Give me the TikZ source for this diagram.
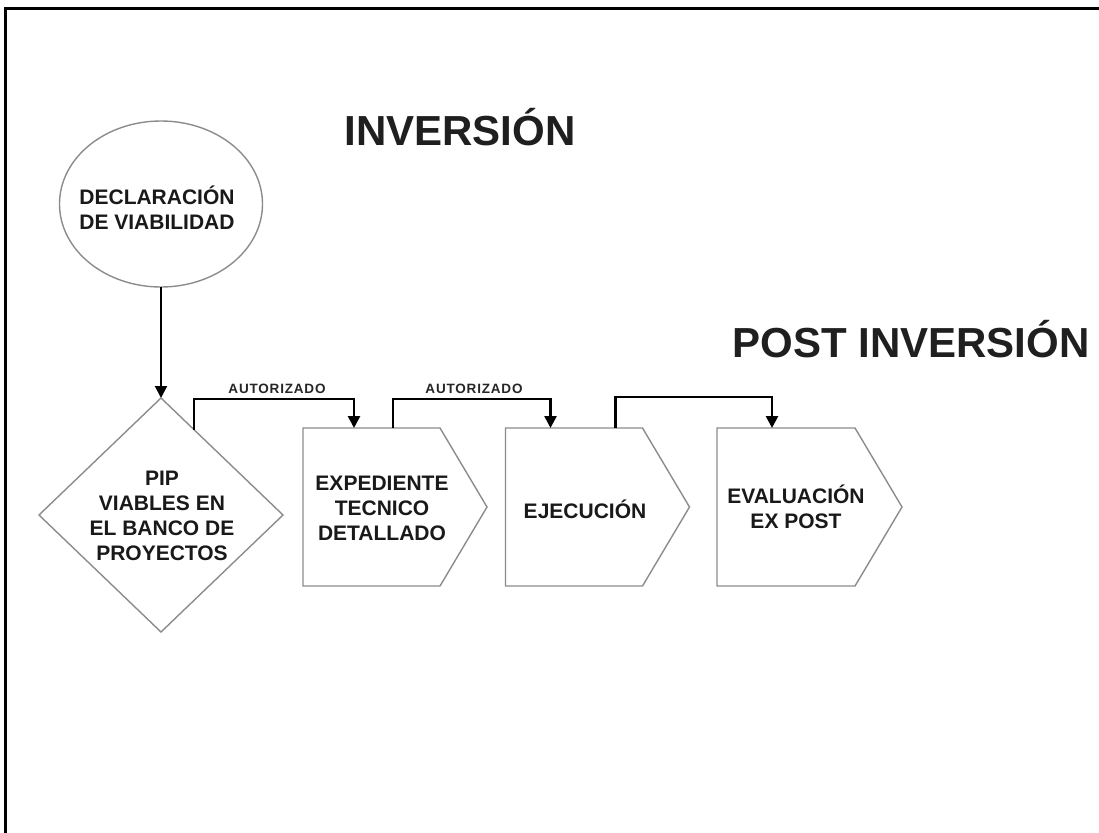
\documentclass[tikz,border=0pt]{standalone}
\usepackage{fontspec}
\setmainfont{Liberation Sans}
\newfontfamily\lblfont{Liberation Sans}[LetterSpace=6]
\usetikzlibrary{arrows.meta,calc,shapes.geometric}
\begin{document}
\begin{tikzpicture}[x=1pt,y=-1pt,
  shapeline/.style={draw=black!45, line width=1.4pt},
  rectarea/.style={rectangle, draw=none, inner sep=0pt, outer sep=0pt, minimum width=137pt, minimum height=158pt},
  conn/.style={draw=black, line width=2.6pt, -{Triangle[width=12pt,length=12pt]}},
  boxtxt/.style={font=\bfseries\fontsize{21}{25}\selectfont, align=center, text=black!90, inner sep=0pt},
  titletxt/.style={font=\bfseries\fontsize{42}{48}\selectfont, anchor=base, text=black!88, inner sep=0pt},
  smalltxt/.style={font=\lblfont\bfseries\fontsize{13.5}{15}\selectfont, anchor=base, text=black!85, inner sep=0pt}]

\useasboundingbox (0,0) rectangle (1099,832);
\fill[white] (0,0) rectangle (1099,832);
% frame
\draw[line width=3pt] (5,833) -- (5,8.5) -- (1100,8.5);

% titles
\node[titletxt] (tinv) at (460,145) {INVERSIÓN};
\node[titletxt] (tpost) at (911,357) {POST INVERSIÓN};

% declaration ellipse
\node[ellipse, shapeline, minimum width=203pt, minimum height=166pt, inner sep=0pt, outer sep=0pt] (decl) at (161,204) {};
\node[boxtxt] (decltxt) at (157,208) {DECLARACIÓN\\DE VIABILIDAD};

% diamond
\node[diamond, shapeline, minimum width=244pt, minimum height=234pt, inner sep=0pt, outer sep=0pt] (dia) at (161,515) {};
\node[boxtxt] (diatxt) at (162,516) {PIP\\VIABLES EN\\EL BANCO DE\\PROYECTOS};

% process boxes (rectangular part as node, pointer drawn from its anchors)
\node[rectarea] (b1) at (371.5,507) {};
\node[rectarea] (b2) at (574,507) {};
\node[rectarea, minimum width=138pt] (b3) at (786,507) {};
\foreach \b in {b1,b2,b3}{
  \draw[shapeline, line join=miter] (\b.north west) -- (\b.north east) -- ($(\b.east)+(47,0)$) -- (\b.south east) -- (\b.south west) -- cycle;
}
\node[boxtxt] (b1txt) at (382,508) {EXPEDIENTE\\TECNICO\\DETALLADO};
\node[boxtxt] (b2txt) at (585,509) {EJECUCIÓN};
\node[boxtxt] (b3txt) at (796,507) {EVALUACIÓN\\EX POST};

% connector coordinates
\coordinate (d1) at ($(dia.north)!0.27!(dia.east)$);
\coordinate (a1) at ($(b1.north west)+(51,0)$);
\coordinate (s2) at ($(b1.north west)+(90,0)$);
\coordinate (a2) at ($(b2.north west)+(45,0)$);
\coordinate (s3) at ($(b2.north west)+(110,0)$);
\coordinate (a3) at ($(b3.north west)+(55,0)$);
\coordinate (top1) at (0,399);
\coordinate (top3) at (0,397);

% connectors
\draw[conn, line width=2pt] (decl.south) -- (dia.north);
\draw[conn] (d1) -- (d1 |- top1) -- (a1 |- top1) -- (a1);
\draw[conn] (s2) -- (s2 |- top1) -- (a2 |- top1) -- (a2);
\draw[conn] (s3) -- (s3 |- top3) -- (a3 |- top3) -- (a3);

% labels
\node[smalltxt] (lab1) at (277,393) {AUTORIZADO};
\node[smalltxt] (lab2) at (474,393) {AUTORIZADO};
\end{tikzpicture}
\end{document}
